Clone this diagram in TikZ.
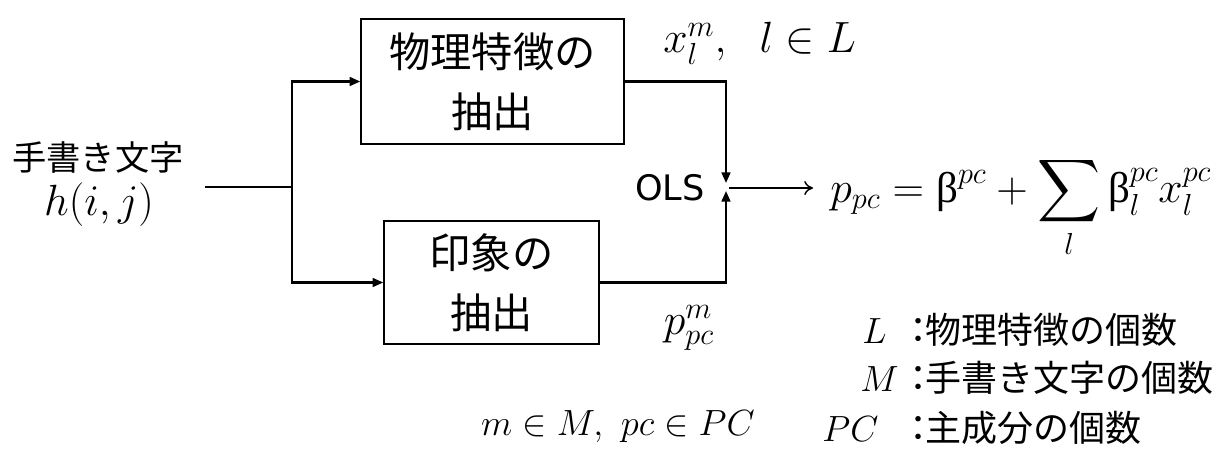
\documentclass[tikz,border=0pt]{standalone}
\usepackage{amsmath}
\usepackage{fontspec}
\newfontfamily\jp{Noto Sans CJK JP}
\newfontfamily\olsfont{DejaVu Sans}
\newfontfamily\grk{Liberation Serif}
\usetikzlibrary{arrows.meta,positioning}
\newcommand{\bt}{\text{\grk β}}
\newcommand{\jpcolon}{：\hspace{-.3em}}
\tikzset{blk/.style={draw,line width=.9pt,align=center,font=\jp\fontsize{23.5}{34}\selectfont},wire/.style={line width=1.2pt},flow/.style={-{Triangle[length=6pt,width=5pt]},line width=1.2pt},outflow/.style={-{To[length=5pt,width=8pt]},line width=.8pt},mth/.style={font=\fontsize{24.5}{28}\selectfont,inner sep=0pt},key/.style={font=\fontsize{22}{26}\selectfont,inner sep=0pt,anchor=base west},jptxt/.style={font=\jp\fontsize{20.5}{24}\selectfont,inner sep=0pt,anchor=base west}}

\begin{document}
\begin{tikzpicture}[x=.02cm,y=-.02cm]
\useasboundingbox (0,0) rectangle (1213,457);
\node[blk,minimum width=5.26cm,minimum height=2.5cm] (phys) at (492.5,81.5) {物理特徴の\\抽出};
\node[blk,minimum width=4.3cm,minimum height=2.46cm] (imp) at (491.5,282.5) {印象の\\抽出};
\node[font=\jp\fontsize{19.5}{24}\selectfont] (hw) at (98,157) {手書き文字};
\node[mth] (hij) at (99,205) {$h(i,j)$};
\coordinate (src) at (205,187);
\coordinate (split) at (292,187);
\coordinate (olsT) at (726,183);
\coordinate (olsB) at (726,191);
\coordinate (olsR) at (729,188);
\draw[wire] (src) -- (split);
\draw[flow] (split) |- (phys.west);
\draw[flow] (split) |- (imp.west);
\draw[flow] (phys.east) -| (olsT);
\draw[flow] (imp.east) -| (olsB);
\node[font=\olsfont\fontsize{20}{24}\selectfont] (ols) at (670,188) {OLS};
\node[mth,anchor=base west,inner xsep=17*.02cm] (frm) at (813,202) {$p_{pc}=\bt^{pc}+\displaystyle\sum_l\bt_l^{pc}x_l^{pc}$};
\draw[outflow] (olsR) -- (olsR -| frm.west);
\node[mth,anchor=base west] (xlab) at (663,52) {$x_l^m,\ \ l\in L$};
\node[mth,font=\fontsize{25.5}{28}\selectfont] (plab) at (689,328) {$p_{pc}^m$};
\node[key,anchor=center] (sets) at (618,427) {$m\in M,\ pc\in PC$};
% legend
\node[key] (kL) at (862,343) {$L$};
\node[jptxt] (dL) at (900,343) {\jpcolon 物理特徴の個数};
\node[key] (kM) at (860,391) {$M$};
\node[jptxt] (dM) at (900,391) {\jpcolon 手書き文字の個数};
\node[key] (kPC) at (822,441) {$PC$};
\node[jptxt] (dPC) at (900,441) {\jpcolon 主成分の個数};
\end{tikzpicture}
\end{document}
